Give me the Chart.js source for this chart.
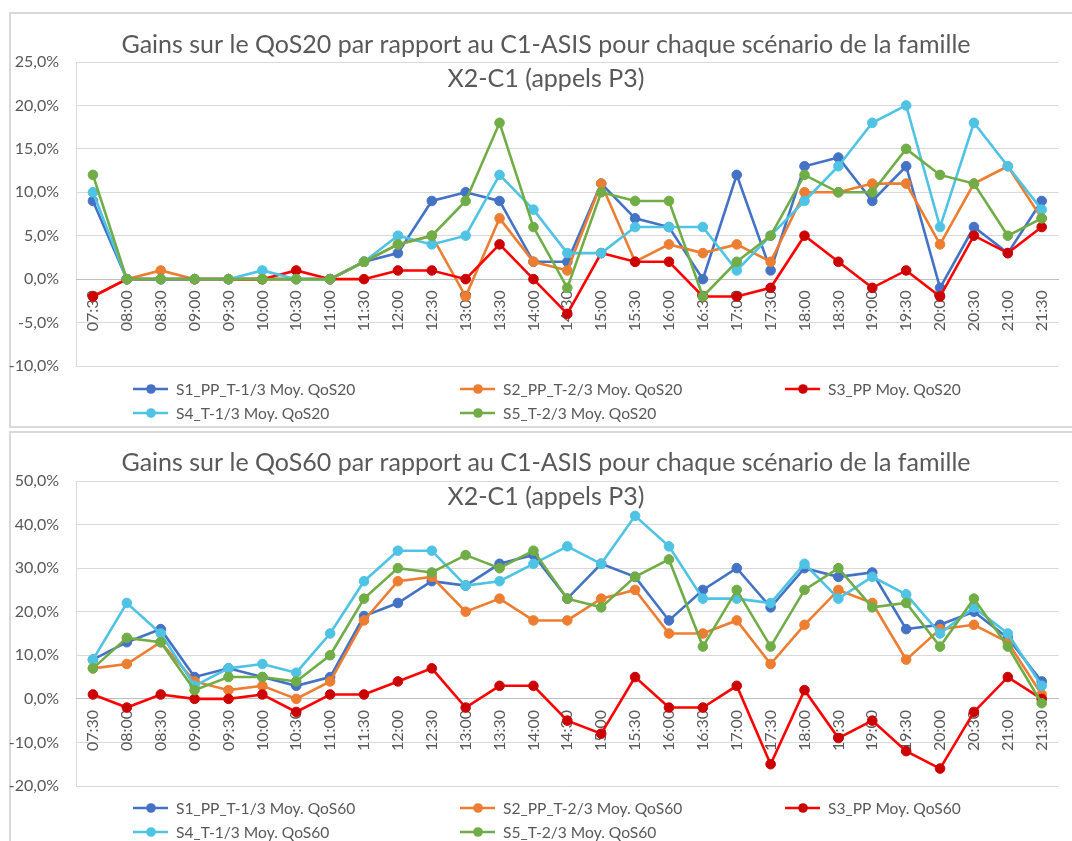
<!DOCTYPE html>
<html>
<head>
<meta charset="utf-8">
<script src="https://cdn.jsdelivr.net/npm/chart.js@4.4.1/dist/chart.umd.min.js"></script>
<style>
  html, body { margin: 0; padding: 0; background: #fff; width: 1072px; height: 841px; overflow: hidden; position: relative; }
  .frame { position: absolute; border: 2px solid #d9d9d9; box-sizing: border-box; }
  .wrap { position: absolute; left: 0; width: 1072px; }
</style>
</head>
<body>
<div class="frame" style="left:9px;top:12px;width:1100px;height:416px"></div>
<div class="frame" style="left:9px;top:431px;width:1100px;height:430px"></div>
<div class="wrap" style="top:0;height:428px"><canvas id="qos20"></canvas></div>
<div class="wrap" style="top:428px;height:413px"><canvas id="qos60"></canvas></div>
<script>
// Half-hour slots
const slots = ['07:30','08:00','08:30','09:00','09:30','10:00','10:30','11:00','11:30','12:00',
  '12:30','13:00','13:30','14:00','14:30','15:00','15:30','16:00','16:30','17:00',
  '17:30','18:00','18:30','19:00','19:30','20:00','20:30','21:00','21:30'];

// Scenario names
const scenarios = ['S1_PP_T-1/3', 'S2_PP_T-2/3', 'S3_PP', 'S4_T-1/3', 'S5_T-2/3'];

// Gains on QoS20 (%)
const qos20_s1 = [9, 0, 0, 0, 0, 0, 0, 0, 2, 3, 9, 10, 9, 2, 2, 11, 7, 6, 0, 12, 1, 13, 14, 9, 13, -1, 6, 3, 9];
const qos20_s2 = [-2, 0, 1, 0, 0, 0, 0, 0, 2, 4, 5, -2, 7, 2, 1, 11, 2, 4, 3, 4, 2, 10, 10, 11, 11, 4, 11, 13, 7];
const qos20_s3 = [-2, 0, 0, 0, 0, 0, 1, 0, 0, 1, 1, 0, 4, 0, -4, 3, 2, 2, -2, -2, -1, 5, 2, -1, 1, -2, 5, 3, 6];
const qos20_s4 = [10, 0, 0, 0, 0, 1, 0, 0, 2, 5, 4, 5, 12, 8, 3, 3, 6, 6, 6, 1, 5, 9, 13, 18, 20, 6, 18, 13, 8];
const qos20_s5 = [12, 0, 0, 0, 0, 0, 0, 0, 2, 4, 5, 9, 18, 6, -1, 10, 9, 9, -2, 2, 5, 12, 10, 10, 15, 12, 11, 5, 7];

// Gains on QoS60 (%)
const qos60_s1 = [9, 13, 16, 5, 7, 5, 3, 5, 19, 22, 27, 26, 31, 33, 23, 31, 28, 18, 25, 30, 21, 30, 28, 29, 16, 17, 20, 14, 4];
const qos60_s2 = [7, 8, 13, 4, 2, 3, 0, 4, 18, 27, 28, 20, 23, 18, 18, 23, 25, 15, 15, 18, 8, 17, 25, 22, 9, 16, 17, 13, 1];
const qos60_s3 = [1, -2, 1, 0, 0, 1, -3, 1, 1, 4, 7, -2, 3, 3, -5, -8, 5, -2, -2, 3, -15, 2, -9, -5, -12, -16, -3, 5, 0];
const qos60_s4 = [9, 22, 15, 3, 7, 8, 6, 15, 27, 34, 34, 26, 27, 31, 35, 31, 42, 35, 23, 23, 22, 31, 23, 28, 24, 15, 21, 15, 3];
const qos60_s5 = [7, 14, 13, 2, 5, 5, 4, 10, 23, 30, 29, 33, 30, 34, 23, 21, 28, 32, 12, 25, 12, 25, 30, 21, 22, 12, 23, 12, -1];

// Axis ranges (%)
const qos20_axis = { min: -10, max: 25, step: 5 };
const qos60_axis = { min: -20, max: 50, step: 10 };

const lineColors  = ['#4472C4', '#ED7D31', '#FF0000', '#4FC3E4', '#70AD47'];
const pointColors = ['#4472C4', '#ED7D31', '#CC0000', '#4FC3E4', '#70AD47'];
const textGrey = '#595959';
const FONT = 'Lato, "Open Sans", sans-serif';

function makeDatasets(series, suffix) {
  return series.map((values, i) => ({
    label: scenarios[i] + ' Moy. ' + suffix,
    data: values,
    borderColor: lineColors[i],
    backgroundColor: pointColors[i],
    pointBackgroundColor: pointColors[i],
    pointBorderColor: pointColors[i],
    borderWidth: 2.6,
    pointRadius: 4.8,
    pointBorderWidth: 1,
    tension: 0,
    order: 5 - i
  }));
}

// Title lines and legend grid drawn onto the canvas
const decorPlugin = {
  id: 'decor',
  afterDraw(chart, args, opts) {
    const ctx = chart.ctx;
    ctx.save();
    ctx.fillStyle = textGrey;
    ctx.textAlign = 'center';
    ctx.textBaseline = 'middle';
    ctx.font = '25px ' + FONT;
    opts.title.forEach((t, k) => ctx.fillText(t, opts.titleX, opts.titleY[k]));

    const cols = [133, 460, 785];
    const place = [[0, 0], [1, 0], [2, 0], [0, 1], [1, 1]];
    chart.data.datasets.forEach((ds, i) => {
      const x0 = cols[place[i][0]];
      const y = opts.legendY[place[i][1]];
      ctx.strokeStyle = ds.borderColor;
      ctx.lineWidth = 2.6;
      ctx.beginPath();
      ctx.moveTo(x0, y);
      ctx.lineTo(x0 + 35, y);
      ctx.stroke();
      ctx.fillStyle = ds.pointBackgroundColor;
      ctx.beginPath();
      ctx.arc(x0 + 18, y, 4.8, 0, Math.PI * 2);
      ctx.fill();
      ctx.fillStyle = textGrey;
      ctx.textAlign = 'left';
      ctx.font = '15.6px ' + FONT;
      ctx.fillText(ds.label, x0 + 43, y + 1);
    });
    ctx.restore();
  }
};

function buildChart(id, datasets, axis, pad, decor) {
  return new Chart(document.getElementById(id), {
    type: 'line',
    data: { labels: slots, datasets },
    plugins: [decorPlugin],
    options: {
      responsive: true,
      maintainAspectRatio: false,
      animation: false,
      events: [],
      layout: { padding: { top: pad.top, bottom: pad.bottom, left: 0, right: 0 } },
      plugins: {
        legend: { display: false },
        title: { display: false },
        tooltip: { enabled: false },
        decor
      },
      scales: {
        y: {
          min: axis.min,
          max: axis.max,
          afterFit: s => { s.width = 76; },
          ticks: {
            stepSize: axis.step,
            padding: 17,
            color: textGrey,
            font: { family: FONT, size: 16 },
            callback: v => v.toFixed(1).replace('.', ',') + '%'
          },
          grid: { color: '#d9d9d9', lineWidth: 1, drawTicks: false },
          border: { display: true, color: '#d9d9d9', width: 1 }
        },
        x: {
          position: { y: 0 },
          offset: true,
          grid: { display: false, drawTicks: false },
          border: { display: true, color: '#bfbfbf', width: 1 },
          ticks: {
            autoSkip: false,
            minRotation: 90,
            maxRotation: 90,
            padding: 11,
            color: textGrey,
            font: { family: FONT, size: 16 }
          }
        }
      }
    }
  });
}

buildChart('qos20',
  makeDatasets([qos20_s1, qos20_s2, qos20_s3, qos20_s4, qos20_s5], 'QoS20'),
  qos20_axis, { top: 62, bottom: 62 },
  {
    title: ['Gains sur le QoS20 par rapport au C1-ASIS pour chaque scénario de la famille', 'X2-C1 (appels P3)'],
    titleX: 546, titleY: [45, 79], legendY: [389, 413]
  });

buildChart('qos60',
  makeDatasets([qos60_s1, qos60_s2, qos60_s3, qos60_s4, qos60_s5], 'QoS60'),
  qos60_axis, { top: 53, bottom: 55 },
  {
    title: ['Gains sur le QoS60 par rapport au C1-ASIS pour chaque scénario de la famille', 'X2-C1 (appels P3)'],
    titleX: 546, titleY: [35, 69], legendY: [380, 404]
  });
</script>
</body>
</html>
